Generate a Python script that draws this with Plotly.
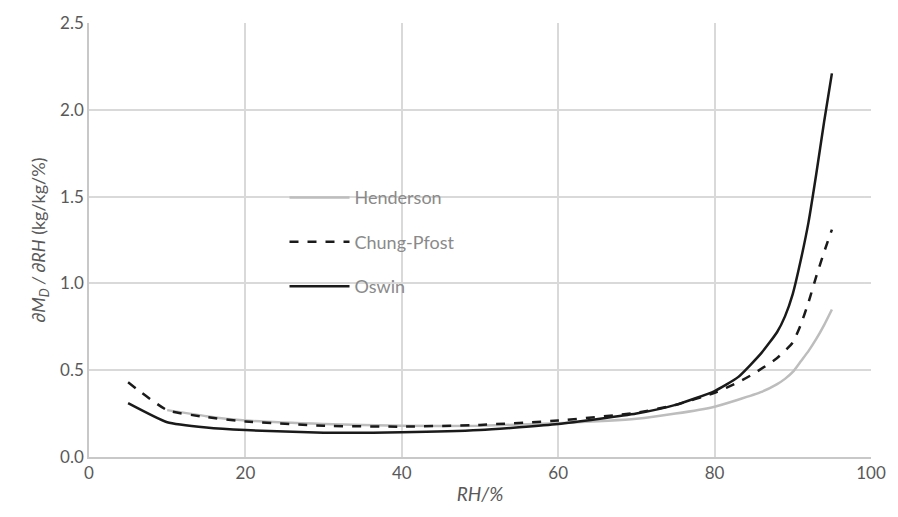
import plotly.graph_objects as go

rh_h = [10, 15, 20, 30, 40, 50, 60, 70, 75, 80, 83, 86, 88, 89, 90, 91, 92, 93, 94, 95]
henderson = [0.27, 0.235, 0.21, 0.19, 0.18, 0.18, 0.195, 0.22, 0.25, 0.29, 0.33, 0.375, 0.42, 0.45, 0.49, 0.55, 0.61, 0.68, 0.76, 0.85]

rh = [5, 10, 15, 20, 30, 40, 50, 60, 70, 75, 80, 83, 85, 88, 90, 91, 92, 93, 94, 95]
chung = [0.43, 0.27, 0.23, 0.205, 0.18, 0.175, 0.185, 0.21, 0.255, 0.3, 0.37, 0.43, 0.48, 0.57, 0.66, 0.76, 0.89, 1.04, 1.18, 1.31]

rh_o = [5, 10, 15, 20, 30, 40, 50, 60, 70, 75, 80, 83, 86, 88, 89, 90, 91, 92, 93, 94, 95]
oswin = [0.31, 0.2, 0.17, 0.155, 0.14, 0.142, 0.155, 0.19, 0.25, 0.3, 0.38, 0.46, 0.6, 0.72, 0.81, 0.94, 1.13, 1.35, 1.63, 1.93, 2.21]

fig = go.Figure()
fig.add_trace(go.Scatter(x=rh_h, y=henderson, name="Henderson", mode="lines",
                         line=dict(color="#bdbdbd", width=2.5, shape="spline", smoothing=0.5),
                         legendgroup="a"))
fig.add_trace(go.Scatter(x=rh, y=chung, name="Chung-Pfost", mode="lines",
                         line=dict(color="#1a1a1a", width=2.5, dash="dash", shape="spline", smoothing=0.5),
                         legendgroup="b"))
fig.add_trace(go.Scatter(x=rh_o, y=oswin, name="Oswin", mode="lines",
                         line=dict(color="#1a1a1a", width=2.5, shape="spline", smoothing=0.5),
                         legendgroup="c"))

font_fam = "Lato, 'Open Sans', sans-serif"
fig.update_layout(
    width=898, height=517,
    margin=dict(l=89, r=26, t=14, b=60),
    plot_bgcolor="white", paper_bgcolor="white",
    font=dict(family=font_fam, size=17, color="#595959"),
    showlegend=True,
    legend=dict(x=0.25, y=0.64, xanchor="left", yanchor="top",
                bgcolor="rgba(255,255,255,0)", font=dict(size=18, color="#8a8a8a"),
                tracegroupgap=18, itemwidth=60),
    xaxis=dict(range=[0, 100], dtick=20, showgrid=True, gridcolor="#d9d9d9", gridwidth=1.5,
               showline=True, linecolor="#c8c8c8", linewidth=1.5, zeroline=False,
               ticks="", title=dict(text="<i>RH/%</i>", font=dict(size=19, color="#595959"), standoff=6),
               tickfont=dict(size=17, color="#595959")),
    yaxis=dict(range=[0, 2.5], dtick=0.5, tickformat=".1f", showgrid=True, gridcolor="#d9d9d9", gridwidth=1.5,
               showline=True, linecolor="#c8c8c8", linewidth=1.5, zeroline=False, ticks="",
               title=dict(text="<i>∂M<sub>D</sub> / ∂RH</i> (kg/kg/%)", font=dict(size=18, color="#595959"), standoff=10),
               tickfont=dict(size=17, color="#595959")),
)
fig.write_html("out.html")
